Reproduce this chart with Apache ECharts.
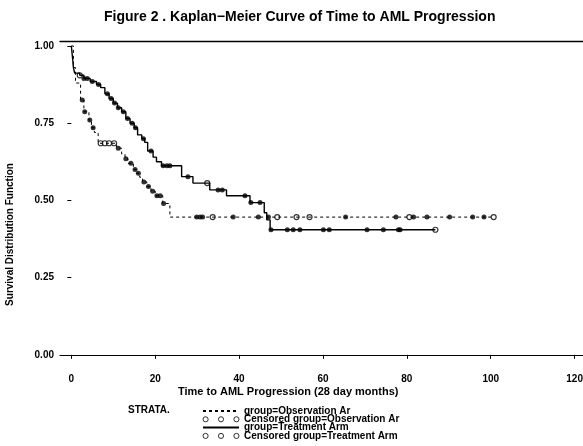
<!DOCTYPE html>
<html>
<head>
<meta charset="utf-8">
<title>Kaplan-Meier</title>
<script src="https://cdn.jsdelivr.net/npm/echarts@6/dist/echarts.min.js"></script>
<style>
html, body { margin: 0; padding: 0; background: #fff; }
#km { width: 583px; height: 446px; }
</style>
</head>
<body>
<div id="km"></div>
<script>
/* Kaplan-Meier curve, time to AML progression */

// treatment arm: step times / survival after each step
var trtTime = [0, 0.3, 0.5, 0.8, 2.0, 3.0, 4.5, 6.0, 7.0, 8.0, 9.0, 10.0, 11.0, 12.0, 13.0, 14.0, 15.0, 15.8, 16.8, 17.5, 18.2, 19.5, 20.3, 21.5, 26.3, 29.0, 33.0, 37.0, 42.6, 46.0, 46.6, 47.4, 86.8];
var trtSurv = [1.0, 0.96, 0.93, 0.912, 0.905, 0.895, 0.885, 0.875, 0.865, 0.845, 0.83, 0.815, 0.80, 0.787, 0.765, 0.75, 0.735, 0.712, 0.70, 0.688, 0.66, 0.64, 0.625, 0.612, 0.577, 0.556, 0.534, 0.515, 0.493, 0.46, 0.437, 0.405, 0.405];

// observation arm
var obsTime = [0, 0.5, 1.0, 2.2, 3.0, 4.2, 4.8, 5.5, 6.4, 10.8, 12.0, 12.8, 13.5, 14.8, 15.5, 16.3, 17.0, 18.0, 19.0, 20.0, 21.8, 23.5, 100.7];
var obsSurv = [1.0, 0.93, 0.88, 0.825, 0.787, 0.76, 0.735, 0.72, 0.685, 0.669, 0.65, 0.635, 0.62, 0.60, 0.588, 0.575, 0.56, 0.545, 0.53, 0.515, 0.49, 0.446, 0.446];

// censored points (filled look / open look as scanned)
var trtCensTime = [3.0, 3.8, 5.0, 6.5, 8.6, 9.5, 10.3, 11.2, 12.4, 13.4, 14.5, 15.3, 17.2, 19.0, 21.9, 22.8, 23.5, 27.8, 35.0, 36.0, 41.4, 42.8, 45.0, 47.6, 51.5, 52.9, 54.5, 60.1, 61.5, 70.5, 74.4, 78.0, 78.4];
var trtCensSurv = [0.895, 0.895, 0.885, 0.875, 0.845, 0.83, 0.815, 0.80, 0.787, 0.765, 0.75, 0.735, 0.70, 0.66, 0.612, 0.612, 0.612, 0.577, 0.534, 0.534, 0.515, 0.493, 0.493, 0.405, 0.405, 0.405, 0.405, 0.405, 0.405, 0.405, 0.405, 0.405, 0.405];
var trtOpenTime = [2.0, 32.4, 86.8];
var trtOpenSurv = [0.905, 0.556, 0.405];

var obsCensTime = [2.6, 3.2, 4.4, 5.2, 11.2, 13.0, 14.2, 15.2, 16.0, 17.3, 18.4, 19.4, 20.4, 21.2, 22.0, 29.9, 30.7, 31.3, 38.6, 44.6, 47.0, 65.4, 77.4, 81.6, 84.8, 90.2, 95.7, 98.4];
var obsCensSurv = [0.825, 0.787, 0.76, 0.735, 0.669, 0.635, 0.62, 0.60, 0.588, 0.56, 0.545, 0.53, 0.515, 0.515, 0.49, 0.446, 0.446, 0.446, 0.446, 0.446, 0.446, 0.446, 0.446, 0.446, 0.446, 0.446, 0.446, 0.446];
var obsOpenTime = [7.0, 8.0, 9.0, 10.2, 33.7, 49.1, 53.7, 56.8, 80.6, 100.7];
var obsOpenSurv = [0.685, 0.685, 0.685, 0.685, 0.446, 0.446, 0.446, 0.446, 0.446, 0.446];

var xTicks = [0, 20, 40, 60, 80, 100, 120];
var yTicks = [0, 0.25, 0.5, 0.75, 1.0];

var FONT = 'Liberation Sans';

function pairs(xs, ys){
	var out = [];
	for (var i = 0; i < xs.length; i++) {
		out.push([xs[i], ys[i]]);
	}
	return out;
}

// legend icon: three small open circles
var threeCircles = 'path://M0.5,4a2.5,2.5 0 1,0 5,0a2.5,2.5 0 1,0 -5,0Z' +
	'M15.5,4a2.5,2.5 0 1,0 5,0a2.5,2.5 0 1,0 -5,0Z' +
	'M30.5,4a2.5,2.5 0 1,0 5,0a2.5,2.5 0 1,0 -5,0Z';
var openIcon = { color: '#fff', borderColor: '#000', borderWidth: 1 };
var noSymbol = { color: 'rgba(0,0,0,0)', borderWidth: 0 };

var km_chart = echarts.init(document.getElementById('km'), null, { renderer: 'canvas' });

var km_option = {
	animation : false,
	backgroundColor : '#fff',
	textStyle : { fontFamily : FONT },
	title : {
		text : 'Figure 2 . Kaplan\u2212Meier Curve of Time to AML Progression',
		left : 99,
		top : 5,
		textStyle : { fontSize : 14, fontWeight : 'bold', color : '#000', fontFamily : FONT }
	},
	grid : { left : 60, right : 0, top : 41, bottom : 84, outerBoundsMode : 'none', containLabel : false },
	xAxis : [ {
		type : 'value',
		min : -2.7,
		max : 122,
		axisLine : { show : true, lineStyle : { color : '#000', width : 1.2 } },
		axisTick : { show : true, length : 4, customValues : xTicks, lineStyle : { color : '#000' } },
		axisLabel : { customValues : xTicks, color : '#000', fontSize : 10, fontWeight : 'bold', fontFamily : FONT, margin : 12 },
		splitLine : { show : false }
	}, {
		type : 'value',
		position : 'top',
		min : -2.7,
		max : 122,
		axisLine : { show : true, lineStyle : { color : '#000', width : 1.4 } },
		axisTick : { show : false },
		axisLabel : { show : false },
		splitLine : { show : false }
	} ],
	yAxis : {
		type : 'value',
		min : -0.023,
		max : 1.016,
		name : 'Survival Distribution Function',
		nameLocation : 'middle',
		nameGap : 45,
		nameTextStyle : { fontSize : 10, fontWeight : 'bold', color : '#000', fontFamily : FONT, padding : [0, 66, 0, 0] },
		axisLine : { show : false },
		axisTick : { show : true, length : 4, customValues : yTicks, lineStyle : { color : '#000' } },
		axisLabel : {
			customValues : yTicks,
			color : '#000', fontSize : 10, fontWeight : 'bold', fontFamily : FONT, margin : 6,
			formatter : function(v){ return v.toFixed(2); }
		},
		splitLine : { show : false }
	},
	legend : {
		orient : 'vertical',
		left : 197,
		top : 401,
		height : 80,
		itemWidth : 36,
		itemHeight : 8,
		itemGap : -1.7,
		textStyle : { fontSize : 10, fontWeight : 'bold', color : '#000', fontFamily : FONT, lineHeight : 8 },
		data : [
			{ name : 'group=Observation Ar', itemStyle : noSymbol },
			{ name : 'Censored group=Observation Ar', icon : threeCircles, itemStyle : openIcon },
			{ name : 'group=Treatment Arm', itemStyle : noSymbol },
			{ name : 'Censored group=Treatment Arm', icon : threeCircles, itemStyle : openIcon }
		]
	},
	graphic : [ {
		type : 'text',
		left : 178,
		top : 386,
		style : { text : 'Time to AML Progression (28 day months)', fontSize : 11, fontWeight : 'bold', fill : '#000', fontFamily : FONT }
	}, {
		type : 'text',
		left : 128,
		top : 405,
		style : { text : 'STRATA.', fontSize : 10, fontWeight : 'bold', fill : '#000', fontFamily : FONT }
	} ],
	series : [ {
		name : 'group=Observation Ar',
		type : 'line',
		step : 'end',
		symbol : 'none',
		itemStyle : { color : '#000' },
		lineStyle : { color : '#000', width : 1, type : [3, 3] },
		data : pairs(obsTime, obsSurv)
	}, {
		name : 'group=Treatment Arm',
		type : 'line',
		step : 'end',
		symbol : 'none',
		itemStyle : { color : '#000' },
		lineStyle : { color : '#000', width : 1.4 },
		data : pairs(trtTime, trtSurv)
	}, {
		name : 'Censored group=Observation Ar',
		type : 'scatter',
		symbol : 'circle',
		symbolSize : 5,
		itemStyle : { color : '#000' },
		data : pairs(obsCensTime, obsCensSurv)
	}, {
		name : 'Censored group=Observation Ar',
		type : 'scatter',
		symbol : 'circle',
		symbolSize : 5,
		itemStyle : { color : '#fff', borderColor : '#000', borderWidth : 1.2 },
		data : pairs(obsOpenTime, obsOpenSurv)
	}, {
		name : 'Censored group=Treatment Arm',
		type : 'scatter',
		symbol : 'circle',
		symbolSize : 5,
		itemStyle : { color : '#000' },
		data : pairs(trtCensTime, trtCensSurv)
	}, {
		name : 'Censored group=Treatment Arm',
		type : 'scatter',
		symbol : 'circle',
		symbolSize : 5,
		itemStyle : { color : '#fff', borderColor : '#000', borderWidth : 1.2 },
		data : pairs(trtOpenTime, trtOpenSurv)
	} ]
};

km_chart.setOption(km_option);
</script>
</body>
</html>
